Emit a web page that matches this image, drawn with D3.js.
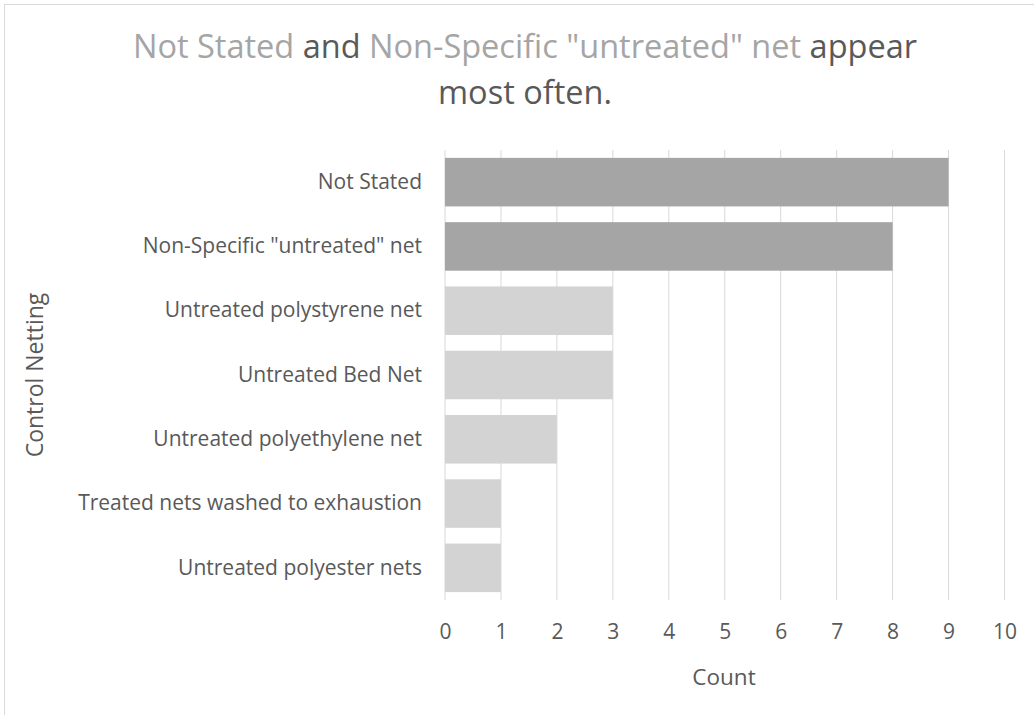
<!DOCTYPE html>
<html lang="en">
<head>
<meta charset="UTF-8">
<title>Control Netting</title>
<script src="https://cdn.jsdelivr.net/npm/d3@7"></script>
<style>
  body { margin: 0; background: #fff; }
  text { font-family: "Open Sans", sans-serif; fill: #595959; }
</style>
</head>
<body>
<script>
// data
var categories = ["Not Stated", "Non-Specific \"untreated\" net", "Untreated polystyrene net",
  "Untreated Bed Net", "Untreated polyethylene net", "Treated nets washed to exhaustion",
  "Untreated polyester nets"];
var counts = [9, 8, 3, 3, 2, 1, 1];
var highlight = [true, true, false, false, false, false, false];
var xTicks = [0, 1, 2, 3, 4, 5, 6, 7, 8, 9, 10];

var width = 1034, height = 715;
var plot = {left: 445, right: 1004.5, top: 150, bottom: 600};

var svg = d3.select("body").append("svg").attr("width", width).attr("height", height);

// chart border
svg.append("rect").attr("x", 4.5).attr("y", 4.5).attr("width", width - 4).attr("height", height)
  .attr("fill", "#fff").attr("stroke", "#d9d9d9").attr("stroke-width", 1);

var x = d3.scaleLinear().domain([0, 10]).range([plot.left, plot.right]);
var y = d3.scaleBand().domain(categories).range([plot.top, plot.bottom]).paddingInner(0.245).paddingOuter(0.1225);

// gridlines
svg.selectAll("line.grid").data(xTicks).enter().append("line").attr("class", "grid")
  .attr("x1", d => x(d)).attr("x2", d => x(d))
  .attr("y1", plot.top).attr("y2", plot.bottom)
  .attr("stroke", "#d9d9d9").attr("stroke-width", 1);

// bars
svg.selectAll("rect.bar").data(categories).enter().append("rect").attr("class", "bar")
  .attr("x", x(0)).attr("y", d => y(d))
  .attr("width", (d, i) => x(counts[i]) - x(0))
  .attr("height", y.bandwidth())
  .attr("fill", (d, i) => highlight[i] ? "#a5a5a5" : "#d3d3d3");

// x axis
var xAxis = d3.axisBottom(x).tickValues(xTicks).tickSize(0).tickPadding(0);
var gx = svg.append("g").attr("transform", "translate(0," + plot.bottom + ")").call(xAxis);
gx.select(".domain").remove();
gx.selectAll("text").attr("font-size", "21px").attr("dy", null).attr("y", 39)
  .style("font-family", "Open Sans").attr("fill", "#595959");

// y axis
var yAxis = d3.axisLeft(y).tickSize(0).tickPadding(23);
var gy = svg.append("g").attr("transform", "translate(" + plot.left + ",0)").call(yAxis);
gy.select(".domain").remove();
gy.selectAll("text").attr("font-size", "21px").style("font-family", "Open Sans").attr("fill", "#595959");

// axis titles
svg.append("text").attr("x", 724).attr("y", 685)
  .attr("text-anchor", "middle").attr("font-size", "22.5px").text("Count");
svg.append("text").attr("transform", "translate(43,375) rotate(-90)")
  .attr("text-anchor", "middle").attr("font-size", "23px").text("Control Netting");

// title
var title = svg.append("text").attr("text-anchor", "middle").attr("font-size", "32.5px");
var line1 = title.append("tspan").attr("x", 525).attr("y", 58);
line1.append("tspan").attr("fill", "#a5a5a5").text("Not Stated");
line1.append("tspan").text(" and ");
line1.append("tspan").attr("fill", "#a5a5a5").text("Non-Specific \"untreated\" net");
line1.append("tspan").text(" appear");
title.append("tspan").attr("x", 525).attr("y", 104).text("most often.");
</script>
</body>
</html>
